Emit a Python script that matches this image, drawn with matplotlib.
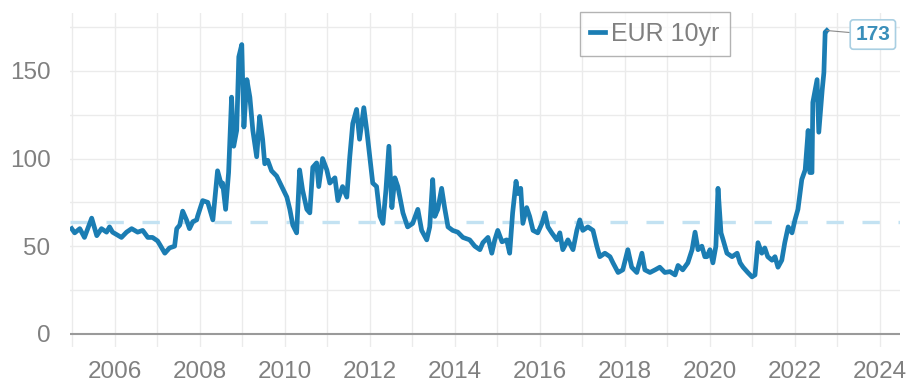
import matplotlib
matplotlib.use("Agg")
import matplotlib.pyplot as plt
import numpy as np

plt.rcParams['font.family'] = ['Liberation Sans', 'DejaVu Sans']

# EUR 10yr series (decimal year, value)
years = [
    2004.99, 2005.06, 2005.18, 2005.29, 2005.46, 2005.58, 2005.69, 2005.81, 2005.88, 2005.95,
    2006.16, 2006.28, 2006.40, 2006.54, 2006.66, 2006.78, 2006.89, 2007.01, 2007.06, 2007.18,
    2007.29, 2007.41, 2007.46, 2007.53, 2007.60, 2007.69, 2007.76, 2007.84, 2007.93, 2007.95,
    2008.07, 2008.19, 2008.31, 2008.42, 2008.52, 2008.54, 2008.61, 2008.68, 2008.75, 2008.80,
    2008.87, 2008.92, 2008.99, 2009.01, 2009.04, 2009.11, 2009.18, 2009.25, 2009.34, 2009.41,
    2009.48, 2009.53, 2009.60, 2009.69, 2009.81, 2009.93, 2010.05, 2010.12, 2010.19, 2010.28,
    2010.35, 2010.42, 2010.52, 2010.59, 2010.66, 2010.75, 2010.80, 2010.89, 2010.99, 2011.06,
    2011.18, 2011.25, 2011.36, 2011.46, 2011.53, 2011.60, 2011.69, 2011.76, 2011.86, 2011.93,
    2012.00, 2012.07, 2012.16, 2012.24, 2012.31, 2012.38, 2012.45, 2012.52, 2012.59, 2012.66,
    2012.78, 2012.89, 2013.01, 2013.13, 2013.22, 2013.34, 2013.41, 2013.48, 2013.53, 2013.60,
    2013.69, 2013.76, 2013.84, 2013.95, 2014.07, 2014.19, 2014.35, 2014.47, 2014.59, 2014.66,
    2014.78, 2014.87, 2014.94, 2015.01, 2015.11, 2015.22, 2015.29, 2015.36, 2015.44, 2015.48,
    2015.55, 2015.60, 2015.69, 2015.76, 2015.84, 2015.95, 2016.05, 2016.12, 2016.19, 2016.28,
    2016.40, 2016.47, 2016.54, 2016.66, 2016.78, 2016.87, 2016.94, 2017.01, 2017.13, 2017.25,
    2017.34, 2017.41, 2017.53, 2017.65, 2017.72, 2017.84, 2017.95, 2018.07, 2018.16, 2018.28,
    2018.40, 2018.47, 2018.59, 2018.71, 2018.82, 2018.94, 2019.06, 2019.18, 2019.25, 2019.36,
    2019.48, 2019.58, 2019.65, 2019.72, 2019.81, 2019.88, 2019.93, 2020.00, 2020.07, 2020.14,
    2020.19, 2020.26, 2020.31, 2020.40, 2020.52, 2020.64, 2020.71, 2020.78, 2020.89, 2020.99,
    2021.06, 2021.13, 2021.22, 2021.29, 2021.36, 2021.46, 2021.53, 2021.60, 2021.69, 2021.76,
    2021.84, 2021.93, 2022.00, 2022.07, 2022.16, 2022.24, 2022.31, 2022.35, 2022.40, 2022.42,
    2022.52, 2022.56, 2022.64, 2022.68, 2022.71, 2022.75,
]
values = [
    60, 57.6, 60, 55, 66, 56, 60, 58, 61, 58,
    55, 58, 60, 58, 59, 55, 55, 53, 51, 46,
    49, 50, 60, 62, 70, 65, 60, 64, 65, 67,
    76, 75, 65, 93, 84, 86, 71, 92, 135, 107,
    116, 158, 165, 145, 118, 145, 135, 116, 101, 124,
    111, 97, 99, 93, 90, 84, 78, 71, 62, 57.6,
    93.5, 82, 71, 69, 95, 97.5, 84, 100, 93.5, 86,
    89, 76, 84, 78, 101, 120, 128, 111, 129, 116,
    101, 86, 84, 67, 63, 82, 107, 72, 89, 84,
    69, 61, 63, 71, 59, 53.6, 61, 88, 67, 71,
    83, 72, 61, 59, 58, 55, 53.6, 50, 48, 52,
    55, 46, 53.6, 59, 52.5, 53.6, 46, 69, 87, 80,
    83, 63, 72, 67, 59, 57.6, 63, 69, 61, 57.6,
    53.6, 57.6, 48, 53.6, 48, 59, 65, 59, 61, 59,
    50, 44, 46, 44, 40.5, 35, 36.5, 48, 38, 35,
    46, 36.5, 35, 36.5, 38, 35, 35.5, 33.6, 39, 36.5,
    40.5, 48, 58, 48, 50, 44, 44, 48, 40.5, 50,
    83, 57.6, 53.6, 46, 44, 46, 40.5, 38, 35, 32.5,
    33.6, 52, 46, 49, 44, 42, 44, 38, 42, 52,
    61, 57.6, 65, 71, 88, 93.5, 116, 92, 92, 132,
    145, 115, 139, 149, 172, 173,
]
series_name = "EUR 10yr"
average_level = 64
last_label = "173"
x_ticks = [2006, 2008, 2010, 2012, 2014, 2016, 2018, 2020, 2022, 2024]
y_ticks = [0, 50, 100, 150]

LINE = "#1b7db3"
GRID = "#ebebeb"
TEXT = "#808080"

fig = plt.figure(figsize=(9.08, 3.87), dpi=100)
ax = fig.add_axes([70 / 908, 1 - 347 / 387, 830 / 908, 334 / 387])

ax.set_xlim(2004.95, 2024.47)
ax.set_ylim(-7.5, 183)

# grid: yearly verticals, horizontals every 25
for yr in range(2005, 2025):
    ax.axvline(yr, color=GRID, lw=1.0, zorder=0)
for v in range(25, 200, 25):
    ax.axhline(v, color=GRID, lw=1.0, zorder=0)
ax.axhline(0, color="#9a9a9a", lw=1.5, zorder=1)

# long-run average
ax.axhline(average_level, color="#c3e2f2", lw=2.4, zorder=2,
           linestyle=(0, (5.2, 5.6)))

line, = ax.plot(years, values, color=LINE, lw=3.4, solid_joinstyle="round",
                zorder=3, label=series_name)

ax.annotate(last_label, xy=(years[-1], values[-1]),
            xytext=(46, -4), textcoords="offset pixels",
            ha="center", va="center", fontsize=15, fontweight="bold",
            color="#3a8fba",
            bbox=dict(boxstyle="round,pad=0.25,rounding_size=0.15",
                      fc="white", ec="#a9cfe2", lw=1.2),
            arrowprops=dict(arrowstyle="-", color="#8a8a8a", lw=0.8,
                            shrinkA=0, shrinkB=0),
            zorder=5)

ax.set_xticks(x_ticks)
ax.set_xticklabels([str(t) for t in x_ticks])
ax.set_yticks(y_ticks)
ax.tick_params(axis="both", length=0, labelsize=17.5, labelcolor=TEXT)
ax.tick_params(axis="x", pad=10)
ax.tick_params(axis="y", pad=14)
for s in ax.spines.values():
    s.set_visible(False)

leg = fig.legend(handles=[line], labels=[series_name],
                 loc="upper left", bbox_to_anchor=(580 / 908, 1 - 12 / 387),
                 fontsize=18, frameon=True, fancybox=False,
                 handlelength=0.6, handletextpad=0.25, borderpad=0.4,
                 borderaxespad=0)
leg.get_frame().set_edgecolor("#a0a0a0")
leg.get_frame().set_linewidth(1.0)
for t in leg.get_texts():
    t.set_color(TEXT)

fig.savefig("out.png", dpi=100)
